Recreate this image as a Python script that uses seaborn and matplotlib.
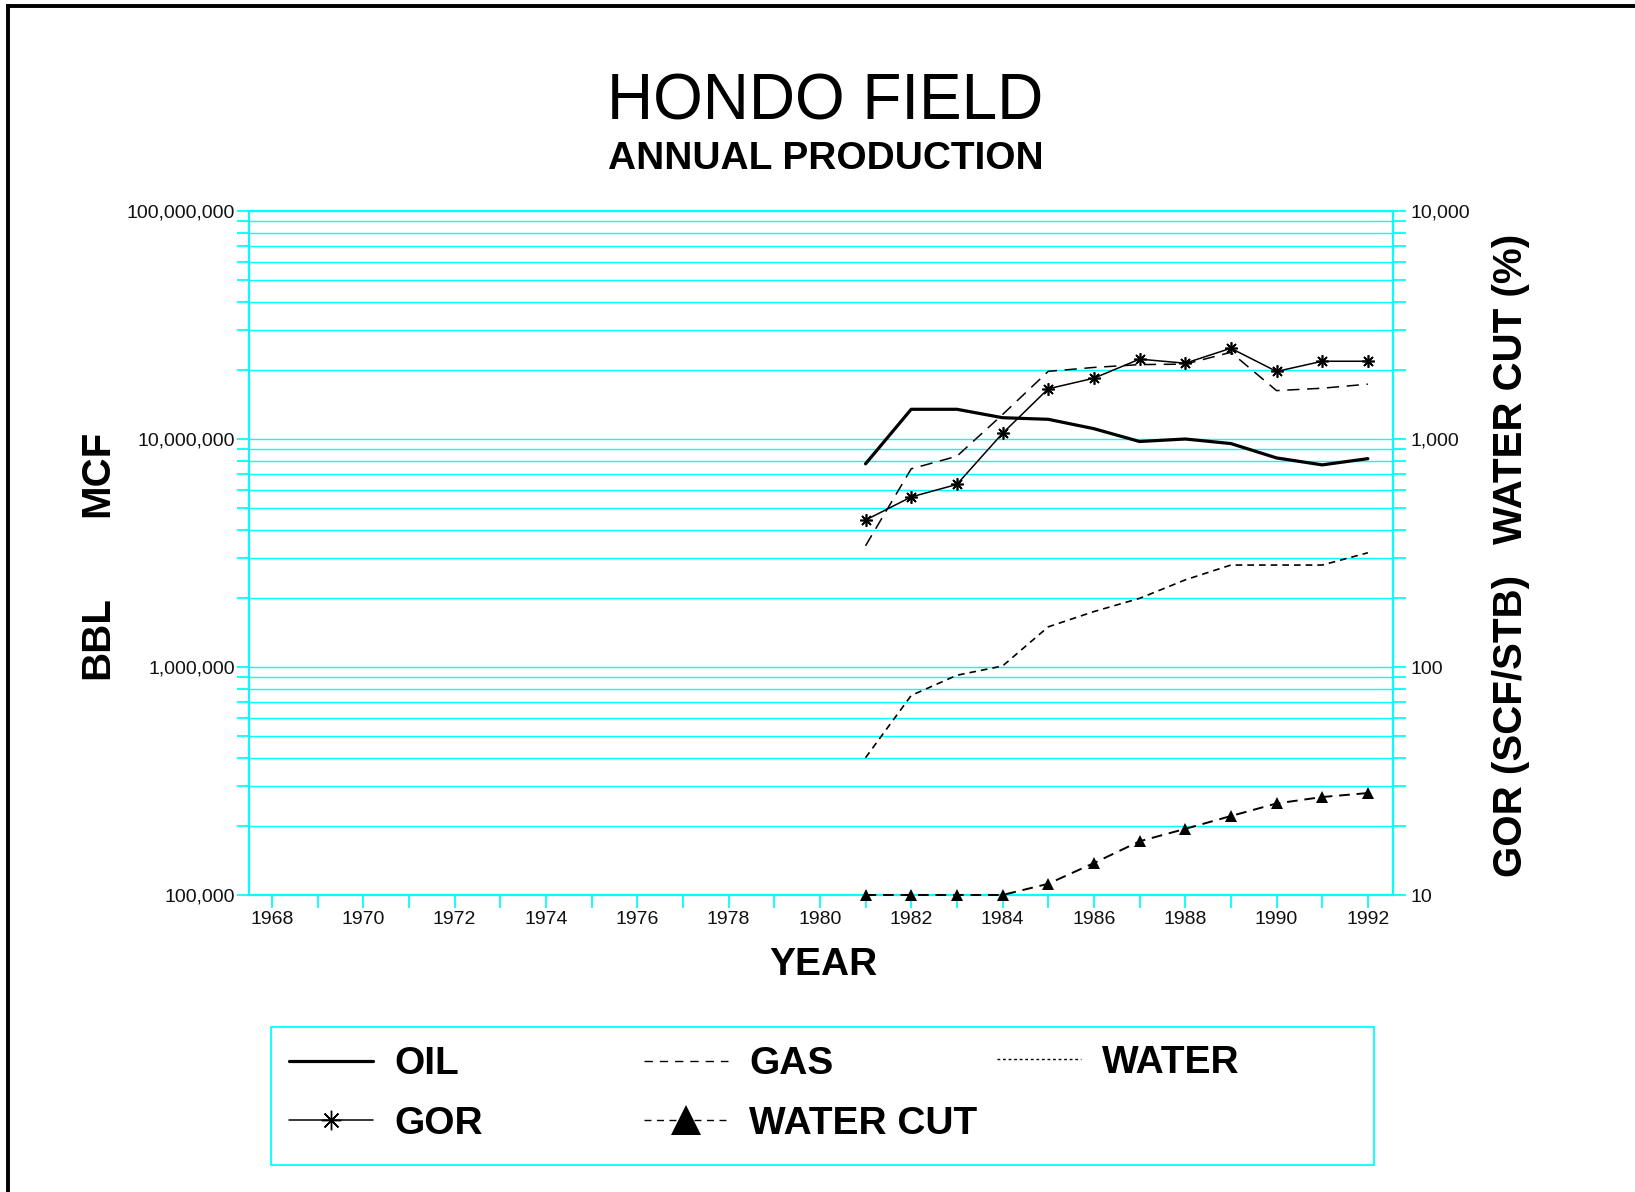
import numpy as np
import pandas as pd
import matplotlib
matplotlib.use("Agg")
import matplotlib.pyplot as plt
from matplotlib import font_manager
from matplotlib.lines import Line2D
from matplotlib.patches import Rectangle
from matplotlib.ticker import LogLocator, FuncFormatter, NullFormatter, MultipleLocator
import seaborn as sns

# ---------------- data ----------------
years = [1981, 1982, 1983, 1984, 1985, 1986, 1987, 1988, 1989, 1990, 1991, 1992]
oil = [7.78e6, 1.35e7, 1.35e7, 1.24e7, 1.22e7, 1.11e7, 9.75e6, 1.0e7, 9.55e6, 8.26e6, 7.7e6, 8.2e6]
gas = [3.4e6, 7.4e6, 8.4e6, 1.28e7, 1.98e7, 2.06e7, 2.12e7, 2.13e7, 2.4e7, 1.63e7, 1.67e7, 1.74e7]
water = [4.0e5, 7.5e5, 9.2e5, 1.01e6, 1.5e6, 1.75e6, 2.0e6, 2.41e6, 2.8e6, 2.8e6, 2.8e6, 3.17e6]
gor = [441, 557, 632, 1059, 1660, 1848, 2240, 2150, 2500, 1978, 2193, 2193]
water_cut = [10, 10, 10, 10, 11.2, 13.8, 17.2, 19.5, 22.2, 25.2, 26.9, 28.0]

x_ticks = list(range(1968, 1993, 2))
left_ticks = [1e5, 1e6, 1e7, 1e8]
right_ticks = [10, 100, 1000, 10000]

title = "HONDO FIELD"
subtitle = "ANNUAL PRODUCTION"
legend_labels = ["OIL", "GAS", "WATER", "GOR", "WATER CUT"]

# ---------------- style ----------------
sns.set_style("white")
avail = {f.name for f in font_manager.fontManager.ttflist}
NARROW = "Liberation Sans Narrow" if "Liberation Sans Narrow" in avail else "Liberation Sans"
plt.rcParams["font.family"] = ["Liberation Sans", "DejaVu Sans"]
plt.rcParams["text.color"] = "black"

CYAN = "#00FFFF"
W, H = 1635, 1192

fig = plt.figure(figsize=(W / 100, H / 100), dpi=100)
fig.patch.set_facecolor("white")

L, R, B, T = 249 / W, 1393 / W, 1 - 895 / H, 1 - 211 / H
ax = fig.add_axes([L, B, R - L, T - B])
ax.set_facecolor("white")

df = pd.DataFrame({"year": years, "oil": oil, "gas": gas, "water": water,
                   "gor": gor, "water_cut": water_cut})

# left axis series
sns.lineplot(data=df, x="year", y="oil", ax=ax, color="black", linewidth=2.3, legend=False, zorder=5)
sns.lineplot(data=df, x="year", y="gas", ax=ax, color="black", linewidth=1.1,
             linestyle=(0, (8, 5)), legend=False, zorder=5)
sns.lineplot(data=df, x="year", y="water", ax=ax, color="black", linewidth=1.2,
             linestyle=(0, (4, 3)), legend=False, zorder=5)

ax.set_yscale("log")
ax.set_ylim(1e5, 1e8)
ax.set_xlim(1967.5, 1992.55)

ax2 = ax.twinx()
sns.lineplot(data=df, x="year", y="gor", ax=ax2, color="black", linewidth=1.1,
             marker=(8, 2, 0), markersize=9, markeredgewidth=1.2,
             markeredgecolor="black", legend=False, zorder=5)
sns.lineplot(data=df, x="year", y="water_cut", ax=ax2, color="black", linewidth=1.4,
             linestyle=(0, (5.5, 3.5)), marker="^", markersize=9,
             markeredgewidth=0, markerfacecolor="black", markeredgecolor="black",
             legend=False, zorder=5, clip_on=False)
ax2.set_yscale("log")
ax2.set_ylim(10, 1e4)
ax2.set_xlim(1967.5, 1992.55)

# ticks / grid
fmt = FuncFormatter(lambda v, p: f"{v:,.0f}")
ax.yaxis.set_major_locator(LogLocator(base=10))
ax.yaxis.set_minor_locator(LogLocator(base=10, subs=np.arange(2, 10)))
ax.set_yticks(left_ticks)
ax.yaxis.set_major_formatter(fmt)
ax.yaxis.set_minor_formatter(NullFormatter())
ax2.yaxis.set_major_locator(LogLocator(base=10))
ax2.yaxis.set_minor_locator(LogLocator(base=10, subs=np.arange(2, 10)))
ax2.set_yticks(right_ticks)
ax2.yaxis.set_major_formatter(fmt)
ax2.yaxis.set_minor_formatter(NullFormatter())
ax.set_xticks(x_ticks)
ax.xaxis.set_minor_locator(MultipleLocator(1))
ax.xaxis.set_major_formatter(FuncFormatter(lambda v, p: f"{int(v)}"))

ax.yaxis.grid(True, which="both", color=CYAN, linewidth=1.0)
ax.xaxis.grid(False)
ax.set_axisbelow(True)

ax.tick_params(axis="y", which="both", direction="out", color=CYAN, width=1.3,
               length=9, pad=1, labelsize=14, labelcolor="#111111", left=True)
ax.tick_params(axis="x", which="both", direction="out", color=CYAN, width=1.3,
               length=9.4, pad=2, labelsize=14, labelcolor="#111111", bottom=True)
ax2.tick_params(axis="y", which="both", direction="out", color=CYAN, width=1.3,
                length=9.4, pad=3, labelsize=14, labelcolor="#111111", right=True)
ax.set_xlabel("")
ax.set_ylabel("")
ax2.set_ylabel("")
for a in (ax, ax2):
    for s in a.spines.values():
        s.set_color(CYAN)
        s.set_linewidth(1.5)
        s.set_visible(True)

# texts
FAM = [NARROW, "Liberation Sans", "DejaVu Sans"]
fig.text(825 / W, 1 - 120 / H, title, family=FAM, fontsize=46,
         ha="center", va="baseline")
fig.text(826 / W, 1 - 169 / H, subtitle, family=FAM, fontsize=28,
         fontweight="bold", ha="center", va="baseline")
fig.text(823 / W, 1 - 975 / H, "YEAR", family=FAM, fontsize=28,
         fontweight="bold", ha="center", va="baseline")
for txt, yc in (("MCF", 473), ("BBL", 637.6)):
    fig.text(108 / W, 1 - yc / H, txt, family=FAM, fontsize=29,
             fontweight="bold", rotation=90, rotation_mode="anchor", ha="center", va="baseline")
for txt, yc in (("WATER CUT (%)", 388.4), ("GOR (SCF/STB)", 726.2)):
    fig.text(1522 / W, 1 - yc / H, txt, family=FAM, fontsize=29,
             fontweight="bold", rotation=90, rotation_mode="anchor", ha="center", va="baseline")

# legend
h_oil = Line2D([], [], color="black", lw=2.3)
h_gas = Line2D([], [], color="black", lw=1.0, linestyle=(0, (6, 5)))
h_water = Line2D([], [], color="black", lw=1.0, linestyle=(0, (2, 2)))
h_gor = Line2D([], [], color="black", lw=1.1, marker=(8, 2, 0), markersize=14,
               markeredgewidth=1.0, markeredgecolor="black")
h_wc = Line2D([], [], color="black", lw=1.0, linestyle=(0, (5, 4)), marker="^",
              markersize=21, markerfacecolor="black", markeredgewidth=0)

leg_kw = dict(frameon=False, borderpad=0, borderaxespad=0, handlelength=2.16,
              handletextpad=0.55, labelspacing=0.6,
              prop={"family": "Liberation Sans", "weight": "bold", "size": 28})
cols = [([h_oil, h_gor], [legend_labels[0], legend_labels[3]], 289),
        ([h_gas, h_wc], [legend_labels[1], legend_labels[4]], 644),
        ([h_water], [legend_labels[2]], 997)]
for hs, ls, x0 in cols:
    yc = 1094 if len(hs) == 2 else 1063
    fig.legend(hs, ls, loc="center left", bbox_to_anchor=(x0 / W, 1 - yc / H), **leg_kw)

fig.add_artist(Rectangle((271 / W, 1 - 1165 / H), (1374 - 271) / W, (1165 - 1027) / H,
                         transform=fig.transFigure, fill=False, edgecolor=CYAN, lw=1.3))

# outer frame (left and top only)
fig.add_artist(Line2D([8 / W, 8 / W], [0, 1 - 5.5 / H], transform=fig.transFigure,
                      color="black", lw=2.8, solid_capstyle="projecting"))
fig.add_artist(Line2D([8 / W, 1], [1 - 5.5 / H, 1 - 5.5 / H], transform=fig.transFigure,
                      color="black", lw=2.8, solid_capstyle="projecting"))

fig.savefig("out.png", dpi=100, facecolor="white")
